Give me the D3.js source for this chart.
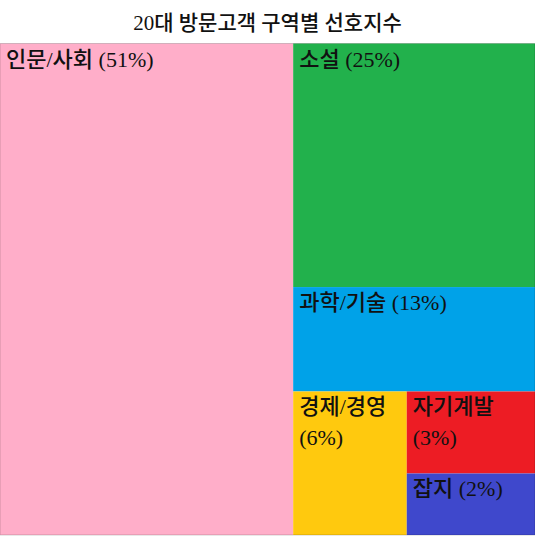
<!DOCTYPE html>
<html>
<head>
<meta charset="utf-8">
<script src="https://cdn.jsdelivr.net/npm/d3@7"></script>
<style>
  body { margin: 0; background: #fff; }
  svg text { font-family: "Liberation Serif", "Noto Sans CJK KR", serif; }
</style>
</head>
<body>
<div id="chart"></div>
<script>
var svgWidth = 535;
var svgHeight = 536;

var margin = { top: 43.5, right: 0, bottom: 1, left: 0 };

var width = svgWidth - margin.left - margin.right;
var height = svgHeight - margin.top - margin.bottom;

// Data
var titleText = "20대 방문고객 구역별 선호지수";
var categories = ["인문/사회", "소설", "과학/기술", "경제/경영", "자기계발", "잡지"];
// area each block takes in the picture
var areaValues = [54.8, 22.4, 9.6, 6.2, 4.0, 3.0];
// percent printed on each block
var percentLabels = [51, 25, 13, 6, 3, 2];
var colors = ["#ffaec9", "#22b14c", "#00a2e8", "#ffc90e", "#ed1c24", "#3f48cc"];

function leaf(i) {
  return { name: categories[i], value: areaValues[i], pct: percentLabels[i], color: colors[i] };
}

// nested so slice/dice gives the same split as the picture
var tree = {
  name: "root",
  children: [
    leaf(0),
    { name: "g1", children: [
      leaf(1),
      leaf(2),
      { name: "g2", children: [
        leaf(3),
        { name: "g3", children: [leaf(4), leaf(5)] }
      ]}
    ]}
  ]
};

var svg = d3.select("#chart")
  .append("svg")
  .attr("width", svgWidth)
  .attr("height", svgHeight);

svg.append("text")
  .attr("x", svgWidth / 2)
  .attr("y", 30)
  .attr("text-anchor", "middle")
  .attr("font-size", "21px")
  .attr("font-weight", 500)
  .attr("fill", "#111")
  .text(titleText);

var chartGroup = svg.append("g")
  .attr("transform", `translate(${margin.left}, ${margin.top})`);

var root = d3.hierarchy(tree).sum(d => d.children ? 0 : d.value);

d3.treemap()
  .tile(d3.treemapSliceDice)
  .size([width, height])
  .paddingInner(0)
  (root);

var cells = chartGroup.selectAll("g.cell")
  .data(root.leaves())
  .enter()
  .append("g")
  .attr("class", "cell")
  .attr("transform", d => `translate(${d.x0}, ${d.y0})`);

cells.append("rect")
  .attr("width", d => d.x1 - d.x0)
  .attr("height", d => d.y1 - d.y0)
  .attr("fill", d => d.data.color);

// faint outline round the whole map
chartGroup.append("rect")
  .attr("width", width)
  .attr("height", height)
  .attr("fill", "none")
  .attr("stroke", "rgba(0,0,0,0.18)")
  .attr("stroke-width", 1);

var labels = cells.append("text")
  .attr("x", 6)
  .attr("y", 23)
  .attr("font-size", "22px")
  .attr("font-weight", 500)
  .attr("fill", "#111")
  .text(d => `${d.data.name} (${d.data.pct}%)`);

// wrap label onto two lines when it does not fit
labels.each(function(d) {
  var t = d3.select(this);
  var boxW = d.x1 - d.x0;
  if (this.getComputedTextLength() > boxW - 10) {
    t.text(null);
    t.append("tspan").attr("x", 6).attr("dy", 0).text(d.data.name);
    t.append("tspan").attr("x", 6).attr("dy", 31).text(`(${d.data.pct}%)`);
  }
});
</script>
</body>
</html>
